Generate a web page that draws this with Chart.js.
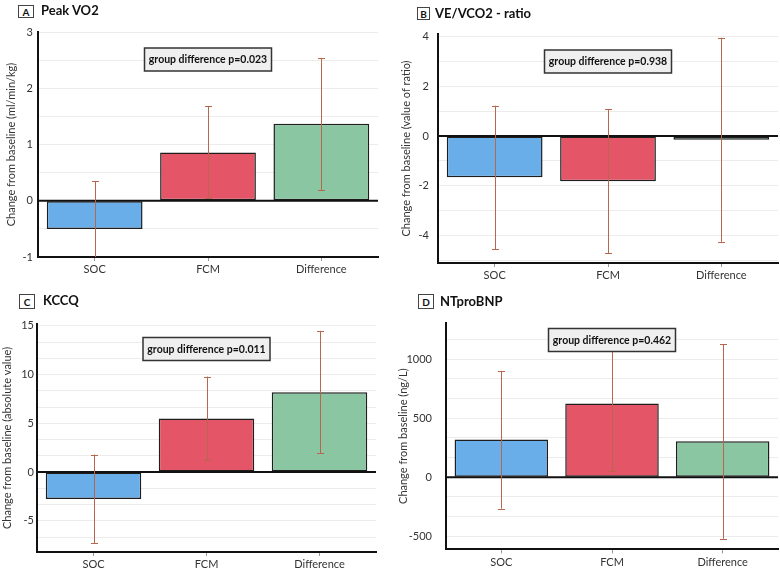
<!DOCTYPE html>
<html>
<head>
<meta charset="utf-8">
<script src="https://cdn.jsdelivr.net/npm/chart.js@4.4.1/dist/chart.umd.min.js"></script>
<style>
  html, body { margin: 0; padding: 0; background: #fff; }
  #page { position: relative; width: 780px; height: 570px; overflow: hidden; font-family: Lato, "Open Sans", sans-serif; }
  .panel { position: absolute; width: 390px; height: 285px; }
  .panel canvas { position: absolute; left: 0; top: 0; }
  .letter { position: absolute; border: 1px solid #444; font-size: 10px; font-weight: bold; display: flex; align-items: center; justify-content: center; box-sizing: border-box; background: #fff; color: #111; }
  .ttl { position: absolute; font-size: 13px; font-weight: bold; white-space: nowrap; line-height: 1; color: #111; }
</style>
</head>
<body>
<div id="page"></div>
<script>
// ---------- data ----------
const categories = ["SOC", "FCM", "Difference"];

const peakVO2Values = [-0.5, 0.86, 1.37];
const peakVO2Low    = [-1.3, 0.05, 0.19];
const peakVO2High   = [0.35, 1.68, 2.54];

const veVco2Values = [-1.65, -1.82, -0.15];
const veVco2Low    = [-4.55, -4.7, -4.25];
const veVco2High   = [1.22, 1.08, 3.95];

const kccqValues = [-2.75, 5.5, 8.2];
const kccqLow    = [-7.3, 1.2, 1.95];
const kccqHigh   = [1.8, 9.8, 14.5];

const ntproValues = [320, 625, 305];
const ntproLow    = [-265, 50, -520];
const ntproHigh   = [900, 1200, 1125];

const panelLetters = ["A", "B", "C", "D"];
const panelTitles = ["Peak VO2", "VE/VCO2 - ratio", "KCCQ", "NTproBNP"];
const yAxisTitles = [
  "Change from baseline (ml/min/kg)",
  "Change from baseline (value of ratio)",
  "Change from baseline (absolute value)",
  "Change from baseline (ng/L)"
];
const pValueTexts = [
  "group difference p=0.023",
  "group difference p=0.938",
  "group difference p=0.011",
  "group difference p=0.462"
];

// ---------- styling / layout ----------
const barColors = ["#6aaee9", "#e35567", "#8bc6a2"];
const errColor = "#b8674c";
const FONT = "Lato, 'Open Sans', sans-serif";

const panels = [
  { left: 0,   top: 0,   values: peakVO2Values, low: peakVO2Low, high: peakVO2High,
    min: -1, max: 3, minor: 0.5, major: 1,
    area: { l: 38, r: 378, t: 32, b: 257 }, tickPad: 5, titlePad: 5,
    letterBox: { x: 18, y: 5, w: 16, h: 13 }, titleX: 41, titleY: 11, boxOff: 27.5 },
  { left: 390, top: 0,   values: veVco2Values, low: veVco2Low, high: veVco2High,
    min: -5.1, max: 4.1, minor: 1, major: 2,
    area: { l: 48, r: 388, t: 34, b: 263 }, tickPad: 9, titlePad: 10,
    letterBox: { x: 27, y: 7, w: 13, h: 13 }, titleX: 45, titleY: 14, boxOff: 27.5 },
  { left: 0,   top: 285, values: kccqValues, low: kccqLow, high: kccqHigh,
    min: -8.2, max: 15.2, minor: 5 / 3, major: 5,
    area: { l: 37, r: 376, t: 39, b: 267 }, tickPad: 3, titlePad: 1,
    letterBox: { x: 19, y: 9, w: 16, h: 15 }, titleX: 43, titleY: 16, boxOff: 25 },
  { left: 390, top: 285, values: ntproValues, low: ntproLow, high: ntproHigh,
    min: -610, max: 1305, minor: 500 / 3, major: 500,
    area: { l: 56, r: 388, t: 38, b: 267 }, tickPad: 14, titlePad: 7,
    letterBox: { x: 28, y: 9, w: 16, h: 15 }, titleX: 50, titleY: 17, boxOff: 17 }
];

// zero line + error bar plugin
const errorBarPlugin = {
  id: "errorBars",
  afterDatasetsDraw(chart, args, opts) {
    const { ctx, chartArea } = chart;
    const meta = chart.getDatasetMeta(0);
    const y = chart.scales.y;
    ctx.save();
    // zero reference line on top of bars
    const y0 = y.getPixelForValue(0);
    ctx.strokeStyle = "#111";
    ctx.lineWidth = 2;
    ctx.beginPath();
    ctx.moveTo(chartArea.left, y0); ctx.lineTo(chartArea.right, y0);
    ctx.stroke();

    ctx.beginPath();
    ctx.rect(chartArea.left, chartArea.top, chartArea.right - chartArea.left, chartArea.bottom - chartArea.top);
    ctx.clip();
    ctx.strokeStyle = errColor;
    ctx.lineWidth = 1;
    meta.data.forEach((bar, i) => {
      const x = Math.round(bar.x) + 0.5;
      const yl = y.getPixelForValue(opts.low[i]);
      const yh = y.getPixelForValue(opts.high[i]);
      ctx.beginPath();
      ctx.moveTo(x, yl); ctx.lineTo(x, yh);
      ctx.moveTo(x - 3.5, Math.round(yl) + 0.5); ctx.lineTo(x + 3.5, Math.round(yl) + 0.5);
      ctx.moveTo(x - 3.5, Math.round(yh) + 0.5); ctx.lineTo(x + 3.5, Math.round(yh) + 0.5);
      ctx.stroke();
    });
    ctx.restore();
  }
};

// p-value box plugin
const pBoxPlugin = {
  id: "pBox",
  afterDraw(chart, args, opts) {
    const { ctx, chartArea } = chart;
    const meta = chart.getDatasetMeta(0);
    const cx = meta.data[1].x;
    const cy = chartArea.top + opts.offset;
    const w = 127, h = 23;
    ctx.save();
    ctx.fillStyle = "#efefef";
    ctx.strokeStyle = "#333";
    ctx.lineWidth = 1.5;
    ctx.fillRect(cx - w / 2, cy - h / 2, w, h);
    ctx.strokeRect(cx - w / 2, cy - h / 2, w, h);
    ctx.fillStyle = "#111";
    ctx.font = "bold 10.5px " + FONT;
    ctx.textAlign = "center";
    ctx.textBaseline = "middle";
    ctx.fillText(opts.text, cx, cy + 0.5);
    ctx.restore();
  }
};

const page = document.getElementById("page");

panels.forEach((p, idx) => {
  const div = document.createElement("div");
  div.className = "panel";
  div.style.left = p.left + "px";
  div.style.top = p.top + "px";
  page.appendChild(div);

  const canvas = document.createElement("canvas");
  canvas.width = 390; canvas.height = 285;
  canvas.style.width = "390px"; canvas.style.height = "285px";
  div.appendChild(canvas);

  const lb = document.createElement("div");
  lb.className = "letter";
  lb.style.left = p.letterBox.x + "px";
  lb.style.top = p.letterBox.y + "px";
  lb.style.width = p.letterBox.w + "px";
  lb.style.height = p.letterBox.h + "px";
  lb.textContent = panelLetters[idx];
  div.appendChild(lb);

  const tt = document.createElement("div");
  tt.className = "ttl";
  tt.style.left = p.titleX + "px";
  tt.style.top = (p.titleY - 7) + "px";
  tt.textContent = panelTitles[idx];
  div.appendChild(tt);

  const a = p.area;
  const xHeight = 285 - a.b;
  new Chart(canvas, {
    type: "bar",
    data: {
      labels: categories,
      datasets: [{
        data: p.values,
        backgroundColor: barColors,
        borderColor: "#1e1e1e",
        borderWidth: 1.5,
        borderSkipped: false,
        barPercentage: 0.845,
        categoryPercentage: 1
      }]
    },
    options: {
      responsive: false,
      animation: false,
      devicePixelRatio: 1,
      layout: { padding: { left: 0, top: a.t, right: 390 - a.r, bottom: 0 } },
      plugins: {
        legend: { display: false },
        tooltip: { enabled: false },
        errorBars: { low: p.low, high: p.high },
        pBox: { text: pValueTexts[idx], offset: p.boxOff }
      },
      scales: {
        x: {
          offset: true,
          afterFit(scale) { scale.height = xHeight; },
          grid: { display: true, drawOnChartArea: false, drawTicks: true, tickLength: 4, offset: false, color: "#999" },
          border: { display: true, color: "#111", width: 2 },
          ticks: { color: "#333", font: { family: FONT, size: 11 }, padding: 2, maxRotation: 0 }
        },
        y: {
          min: p.min, max: p.max,
          afterFit(scale) { scale.width = a.l; },
          grid: {
            drawTicks: false,
            color: (c) => (c.tick && Math.abs(c.tick.value) < 1e-9) ? "#111" : "#ececec",
            lineWidth: 1
          },
          border: { display: true, color: "#111", width: 2 },
          ticks: {
            stepSize: p.minor,
            includeBounds: false,
            autoSkip: false,
            padding: p.tickPad,
            color: "#333",
            font: { family: FONT, size: 11 },
            callback: (v) => {
              const r = v / p.major;
              return Math.abs(r - Math.round(r)) < 1e-6 ? String(Math.round(r) * p.major) : "";
            }
          },
          title: {
            display: true, text: yAxisTitles[idx], color: "#333",
            font: { family: FONT, size: 11 }, padding: { top: p.titlePad, bottom: 0 }
          }
        }
      }
    },
    plugins: [errorBarPlugin, pBoxPlugin]
  });
});
</script>
</body>
</html>
